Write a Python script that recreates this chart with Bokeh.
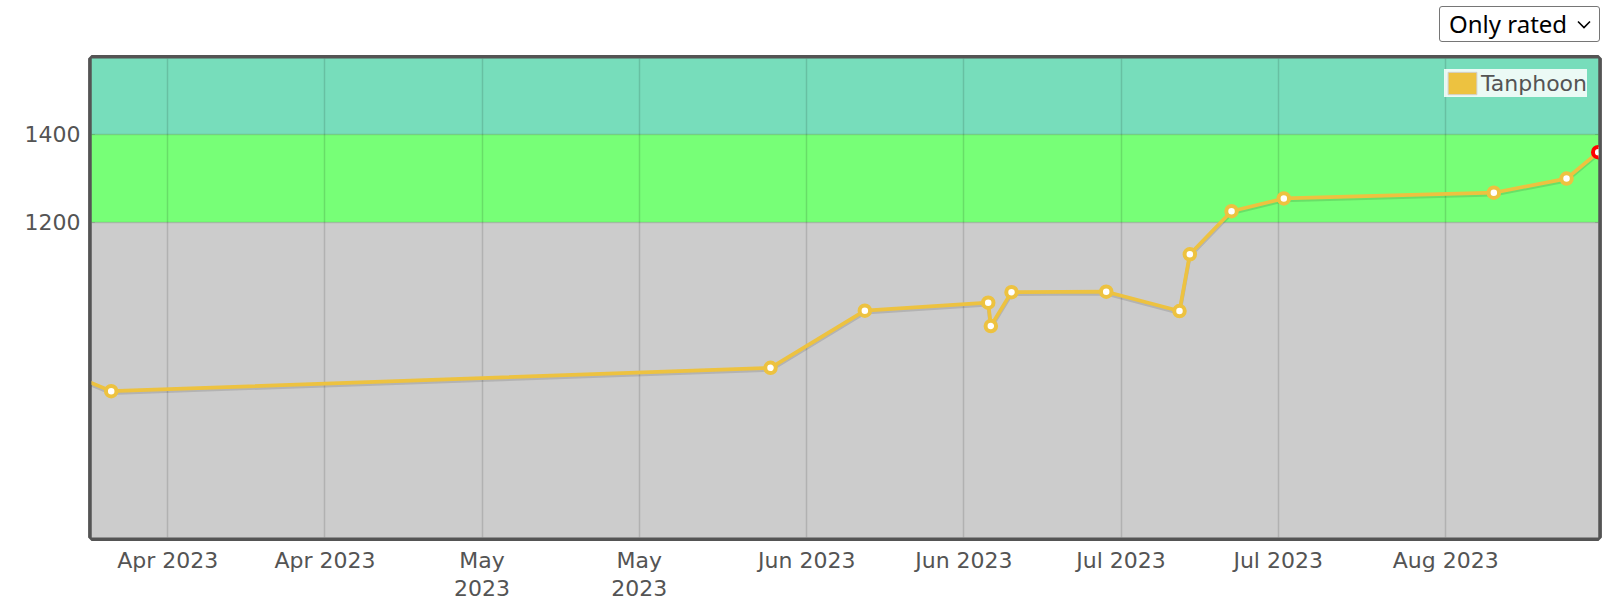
import pandas as pd
from bokeh.plotting import figure
from bokeh.models import (ColumnDataSource, BoxAnnotation, FixedTicker, Legend,
                          LegendItem, Select, InlineStyleSheet, Range1d)
from bokeh.layouts import column
from bokeh.transform import dodge
from bokeh.embed import file_html
from bokeh.resources import INLINE

# ---------------- data ----------------
contest_dates = ["2023-03-19 14:00", "2023-03-26 14:20", "2023-05-28 12:54",
                 "2023-06-06 13:00", "2023-06-18 07:40", "2023-06-18 13:40",
                 "2023-06-20 13:04", "2023-06-29 14:02", "2023-07-06 13:55",
                 "2023-07-07 13:35", "2023-07-11 13:08", "2023-07-16 12:56",
                 "2023-08-05 14:05", "2023-08-12 12:39", "2023-08-15 13:18"]
ratings = [886, 816, 869, 999, 1017, 964, 1041, 1042, 998, 1127, 1225, 1254,
           1267, 1299, 1359]
handle = "Tanphoon"

tick_dates = ["2023-04-01", "2023-04-16", "2023-05-01", "2023-05-16", "2023-06-01",
              "2023-06-16", "2023-07-01", "2023-07-16", "2023-08-01"]
tick_labels = ["Apr 2023", "Apr 2023", "May\n2023", "May\n2023", "Jun 2023",
               "Jun 2023", "Jul 2023", "Jul 2023", "Aug 2023"]
y_ticks = [1200, 1400]

band_bottoms = [0, 1200, 1400]
band_tops = [1200, 1400, 1600]

x_start, x_end = "2023-03-24 17:11", "2023-08-15 13:55"
y_start, y_end = 483.4, 1572.0

# ---------------- styles ----------------
band_colors = ["#CCCCCC", "#77FF77", "#77DDBB"]
series_color = "#EDC240"
text_color = "#545454"
font = "DejaVu Sans"

dates = pd.to_datetime(contest_dates)
point_colors = [series_color] * (len(ratings) - 1) + ["#FF0000"]
src = ColumnDataSource(dict(date=dates, rating=ratings, pc=point_colors))

tick_ms = [float(t.value // 10**6) for t in pd.to_datetime(tick_dates)]

p = figure(width=1615, height=585, x_axis_type="datetime",
           x_range=Range1d(pd.Timestamp(x_start), pd.Timestamp(x_end)),
           y_range=Range1d(y_start, y_end),
           output_backend="svg", toolbar_location=None,
           min_border_left=91, min_border_right=17, min_border_top=16,
           min_border_bottom=90, margin=(0, 0, 0, 0))

p.background_fill_color = band_colors[0]
p.border_fill_color = "white"
p.outline_line_color = text_color
p.outline_line_width = 6.8
p.outline_line_alpha = 1.0

for b, t, c in zip(band_bottoms, band_tops, band_colors):
    p.add_layout(BoxAnnotation(bottom=b, top=t, fill_color=c, fill_alpha=1.0,
                               line_color=None, level="image"))

# axes
p.xaxis.ticker = FixedTicker(ticks=tick_ms, minor_ticks=[])
p.xaxis.major_label_overrides = {v: l for v, l in zip(tick_ms, tick_labels)}
p.yaxis.ticker = FixedTicker(ticks=y_ticks, minor_ticks=[])
for ax in (p.xaxis[0], p.yaxis[0]):
    ax.axis_line_color = None
    ax.major_tick_line_color = None
    ax.minor_tick_line_color = None
    ax.major_tick_out = 0
    ax.major_tick_in = 0
    ax.major_label_text_font = font
    ax.major_label_text_font_size = "22px"
    ax.major_label_text_color = text_color
p.xaxis.major_label_standoff = 10
p.xaxis.major_label_text_line_height = 1.15
p.yaxis.major_label_standoff = 11

for g in (p.xgrid[0], p.ygrid[0]):
    g.grid_line_color = "black"
    g.grid_line_alpha = 0.13
    g.grid_line_width = 1.5

# series
p.line(x="date", y=dodge("rating", -4.5), source=src, line_color="black",
       line_alpha=0.12, line_width=3.7)
p.line(x="date", y="rating", source=src, line_color=series_color, line_width=3.7)
p.scatter(x="date", y="rating", source=src, size=10.5, fill_color="white",
          line_color="pc", line_width=4)

# legend swatch: hidden box glyph of the series, shown only in the legend
leg_r = p.rect(x="date", y="rating", width=1, height=1, source=src,
               fill_color=series_color, line_color="#d0d0d0", line_width=1,
               visible=False)
legend = Legend(items=[LegendItem(label=handle, renderers=[leg_r])],
                location="top_right", margin=11, padding=0, spacing=0,
                glyph_width=36, glyph_height=28, label_height=28, label_standoff=1,
                background_fill_color="white", background_fill_alpha=0.85,
                border_line_color=None, label_text_font=font,
                inactive_fill_alpha=0.0,
                label_text_font_size="22px", label_text_color=text_color)
p.add_layout(legend)

chev = ("data:image/svg+xml;utf8,<svg xmlns='http://www.w3.org/2000/svg' width='14' "
        "height='9' viewBox='0 0 14 9'><path d='M1 1.5 L7 7.5 L13 1.5' stroke='black' "
        "stroke-width='1.6' fill='none'/></svg>")
css = InlineStyleSheet(css="""
select {
  appearance: none !important;
  -webkit-appearance: none !important;
  font-size: 24px !important;
  font-family: 'Noto Sans', sans-serif !important;
  color: black !important;
  height: 36px !important;
  line-height: 34px !important;
  border: 1px solid #767676 !important;
  border-radius: 3px !important;
  padding: 0 30px 0 9px !important;
  background-color: white !important;
  background-image: url("%s") !important;
  background-repeat: no-repeat !important;
  background-position: right 8px center !important;
  background-size: 14px 9px !important;
}
""" % chev)
sel = Select(value="Only rated", options=["Only rated", "All"], width=161,
             margin=(6, 0, 0, 1439), stylesheets=[css])

layout = column(sel, p, spacing=0, width=1615, height=603,
                styles={"overflow": "hidden"})
open("out.html", "w").write(file_html(layout, INLINE))
